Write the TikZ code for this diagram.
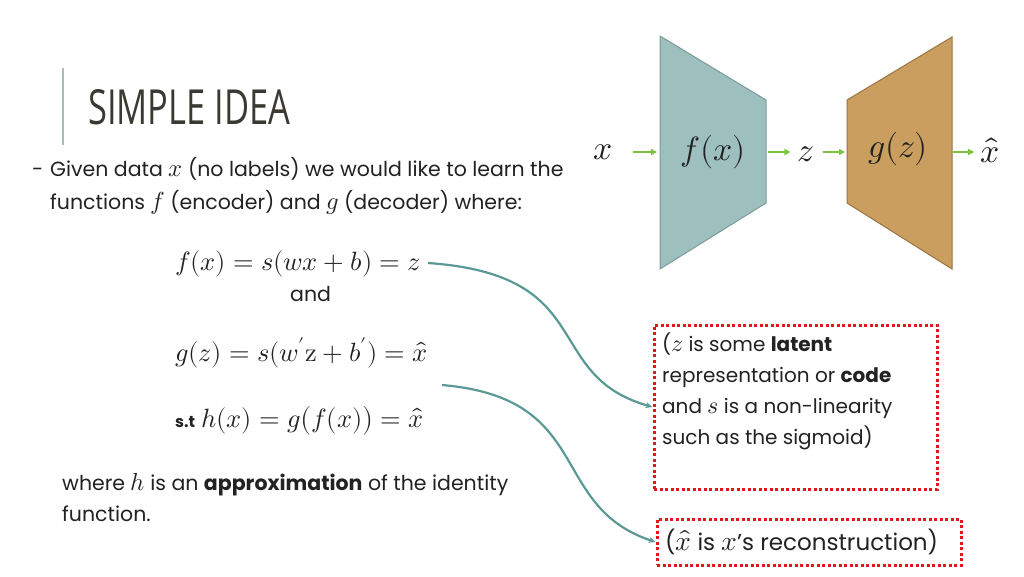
\documentclass[tikz,border=0pt]{standalone}
\usepackage{graphicx}
\usepackage{fontspec}
\usepackage{unicode-math}
\setmainfont{Poppins}
\setmathfont{Latin Modern Math}[Scale=1.2]
\newfontfamily\titlefont{Open Sans}
\usetikzlibrary{arrows.meta}
\definecolor{titlecol}{HTML}{3B3A32}
\definecolor{rulecol}{HTML}{A7BBB8}
\definecolor{bodycol}{HTML}{222222}
\definecolor{encfill}{HTML}{9DC0BF}
\definecolor{encline}{HTML}{7A9B9A}
\definecolor{decfill}{HTML}{C99E5E}
\definecolor{decline}{HTML}{9A7440}
\definecolor{greenarr}{HTML}{7DC242}
\definecolor{tealarr}{HTML}{5B9A94}
\definecolor{redbox}{HTML}{E3161C}
\begin{document}
\begin{tikzpicture}[x=1pt,y=-1pt,
  body/.style={anchor=base west, inner sep=0, text=bodycol, font=\fontsize{20.5}{24}\selectfont},
  eqn/.style={anchor=base west, inner sep=0, text=bodycol, font=\fontsize{22}{26}\selectfont},
  lab/.style={inner sep=0, text=bodycol, font=\fontsize{28}{34}\selectfont},
  garrow/.style={draw=greenarr, line width=2pt, -{Triangle[length=6pt,width=6pt]}},
  tarrow/.style={draw=tealarr, line width=2.2pt, -{Stealth[length=7pt,width=6pt]}},
  redbox/.style={draw=redbox, line width=3pt, dash pattern=on 3pt off 2.5pt, inner sep=0},
]
\useasboundingbox (0,0) rectangle (1024,576);
\fill[white] (0,0) rectangle (1024,576);

% title
\draw[rulecol, line width=2pt] (63,68) -- (63,145);
\node[anchor=base west, inner sep=0, text=titlecol] (title) at (88,124)
  {\resizebox{202pt}{35pt}{\titlefont SIMPLE IDEA}};

% body text
\node[body] (dash) at (32,176) {-};
\node[body] (l1) at (50,176) {Given data $x$ (no labels) we would like to learn the};
\node[body] (l2) at (50,209) {functions $f$ (encoder) and $g$ (decoder) where:};
\node[eqn] (eq1) at (175,270) {$f(x)=s(wx+b)=z$};
\node[body] (and) at (290,301) {and};
\node[eqn] (eq2) at (175,361) {$g(z)=s(w'\symup{z}+b')=\hat{x}$};
\node[eqn] (eq3) at (175,427) {{\fontsize{16}{16}\selectfont\bfseries s.t} $h(x)=g\bigl(f(x)\bigr)=\hat{x}$};
\node[body] (w1) at (62,490) {where $h$ is an \textbf{approximation} of the identity};
\node[body] (w2) at (62,521) {function.};

% encoder / decoder
\filldraw[fill=encfill, draw=encline, line width=1pt] (660,36) -- (766,100) -- (766,203) -- (660,269) -- cycle;
\filldraw[fill=decfill, draw=decline, line width=1pt] (847,100) -- (952,37) -- (952,269) -- (847,203) -- cycle;
\coordinate (fin) at (660,152);
\coordinate (fout) at (766,152);
\coordinate (gin) at (847,152);
\coordinate (gout) at (952,152);
\node[lab] (xl) at (603,152) {$x$};
\node[lab] (fx) at (713,152) {$f(x)$};
\node[lab] (zl) at (806,154) {$z$};
\node[lab] (gz) at (898,149) {$g(z)$};
\node[lab] (xh) at (990,150) {$\hat{x}$};
\draw[garrow, shorten <=20pt, shorten >=3pt] (xl.east |- fin) -- (fin);
\draw[garrow, shorten <=2pt, shorten >=7pt] (fout) -- (zl.west |- fout);
\draw[garrow, shorten <=8pt, shorten >=2pt] (zl.east |- gin) -- (gin);
\draw[garrow, shorten <=1pt, shorten >=6pt] (gout) -- (xh.west |- gout);

% notes
\node[redbox, minimum width=283pt, minimum height=164pt] (box1) at (795.5,407) {};
\node[body, anchor=north west, align=left, font=\fontsize{20}{31}\selectfont] (t1) at (662,333)
  {($z$ is some \textbf{latent}\\representation or \textbf{code}\\and $s$ is a non-linearity\\such as the sigmoid)};
\node[redbox, minimum width=304pt, minimum height=46pt] (box2) at (809,542) {};
\node[body, anchor=west, font=\fontsize{23}{27}\selectfont] (t2) at (665,542)
  {($\hat{x}$ is $x$’s reconstruction)};

\coordinate (c1) at (428,263);
\coordinate (c2) at (442,385);
\draw[tarrow] (c1) .. controls (600,275) and (540,375) .. (box1.west);
\draw[tarrow] (c2) .. controls (595,398) and (547,506) .. (box2.west);
\end{tikzpicture}
\end{document}
